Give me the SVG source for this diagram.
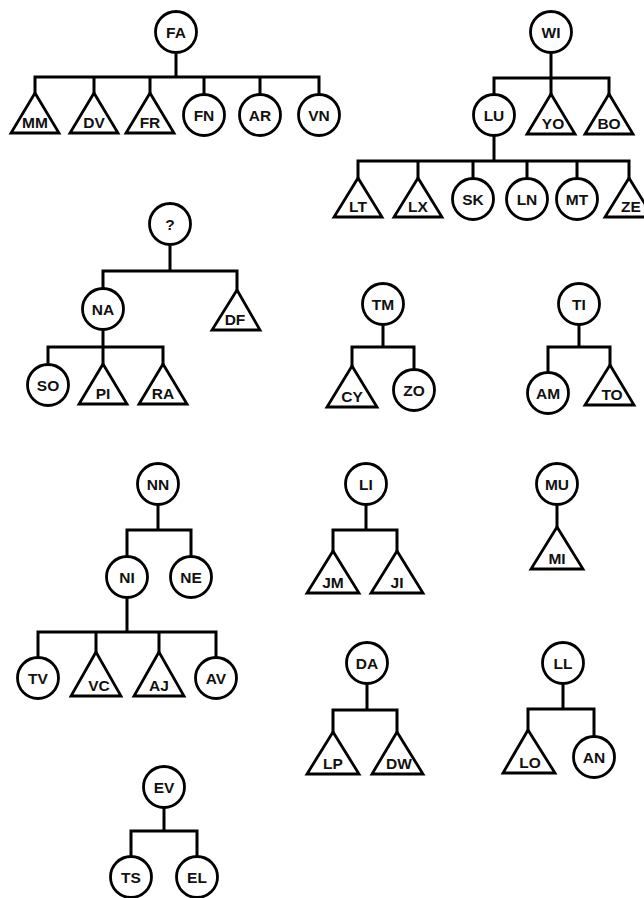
<svg xmlns="http://www.w3.org/2000/svg" width="644" height="898" viewBox="0 0 644 898">
<style>
.n circle,.n polygon{fill:#fff;stroke:#000;stroke-width:2.8;stroke-linejoin:miter}
.n text{font-family:"Liberation Sans",Arial,sans-serif;font-weight:bold;font-size:15.5px;text-anchor:middle;fill:#111}
#conn path{fill:none;stroke:#000;stroke-width:3;stroke-linecap:square}
</style>
<rect width="644" height="898" fill="#fff"/>
<g id="conn">
<path d="M176 52V77M35 77H319M35 77V93M94 77V93M150 77V93M204 77V95M260 77V95M319 77V95"/>
<path d="M551 52V78M494 78H609M494 78V95M551 78V94M609 78V94"/>
<path d="M494 135V161M358 161H629M358 161V178M418 161V178M473 161V179M527 161V179M577 161V179M629 161V178"/>
<path d="M170 244V271M103 271H237M103 271V289M237 271V290"/>
<path d="M103 329V347M48 347H163M48 347V365M103 347V364M163 347V364"/>
<path d="M383 324V347M352 347H414M352 347V366M414 347V370"/>
<path d="M579 324V347M548 347H610M548 347V373M610 347V365"/>
<path d="M158 504V530M127 530H191M127 530V557M191 530V557"/>
<path d="M127 597V632M38 632H216M38 632V658M96 632V652M159 632V652M216 632V658"/>
<path d="M366 504V530M333 530H397M333 530V551M397 530V551"/>
<path d="M557 504V527"/>
<path d="M367 683V710M333 710H397M333 710V732M397 710V732"/>
<path d="M563 683V709M528 709H594M528 709V730M594 709V737"/>
<path d="M164 807V831M131 831H197M131 831V857M197 831V857"/>
</g>
<g id="FA" class="n"><circle cx="176" cy="32" r="20.5"/><text x="176" y="37.5">FA</text></g>
<g id="MM" class="n"><polygon points="35,93 11,133 59,133"/><text x="35" y="128">MM</text></g>
<g id="DV" class="n"><polygon points="94,93 70,133 118,133"/><text x="94" y="128">DV</text></g>
<g id="FR" class="n"><polygon points="150,93 126,133 174,133"/><text x="150" y="128">FR</text></g>
<g id="FN" class="n"><circle cx="204" cy="115" r="20.5"/><text x="204" y="120.5">FN</text></g>
<g id="AR" class="n"><circle cx="260" cy="115" r="20.5"/><text x="260" y="120.5">AR</text></g>
<g id="VN" class="n"><circle cx="319" cy="115" r="20.5"/><text x="319" y="120.5">VN</text></g>
<g id="WI" class="n"><circle cx="551" cy="32" r="20.5"/><text x="551" y="37.5">WI</text></g>
<g id="LU" class="n"><circle cx="494" cy="115" r="20.5"/><text x="494" y="120.5">LU</text></g>
<g id="YO" class="n"><polygon points="551,94 527,134 575,134"/><text x="553" y="129">YO</text></g>
<g id="BO" class="n"><polygon points="609,94 585,134 633,134"/><text x="609" y="129">BO</text></g>
<g id="LT" class="n"><polygon points="358,178 334,217 382,217"/><text x="358" y="212">LT</text></g>
<g id="LX" class="n"><polygon points="418,178 394,217 442,217"/><text x="418" y="212">LX</text></g>
<g id="SK" class="n"><circle cx="473" cy="199" r="20.5"/><text x="473" y="204.5">SK</text></g>
<g id="LN" class="n"><circle cx="527" cy="199" r="20.5"/><text x="527" y="204.5">LN</text></g>
<g id="MT" class="n"><circle cx="577" cy="199" r="20.5"/><text x="577" y="204.5">MT</text></g>
<g id="ZE" class="n"><polygon points="629,178 605,217 653,217"/><text x="631" y="212">ZE</text></g>
<g id="Q" class="n"><circle cx="170" cy="224" r="20.5"/><text x="170" y="229.5">?</text></g>
<g id="NA" class="n"><circle cx="103" cy="309" r="20.5"/><text x="103" y="314.5">NA</text></g>
<g id="DF" class="n"><polygon points="237,290 212,330 260,330"/><text x="235" y="325">DF</text></g>
<g id="SO" class="n"><circle cx="48" cy="385" r="20.5"/><text x="48" y="390.5">SO</text></g>
<g id="PI" class="n"><polygon points="103,364 79,404 127,404"/><text x="103" y="399">PI</text></g>
<g id="RA" class="n"><polygon points="163,364 139,404 187,404"/><text x="163" y="399">RA</text></g>
<g id="TM" class="n"><circle cx="383" cy="304" r="20.5"/><text x="383" y="309.5">TM</text></g>
<g id="CY" class="n"><polygon points="352,366 327,407 377,407"/><text x="352" y="402">CY</text></g>
<g id="ZO" class="n"><circle cx="414" cy="390" r="20.5"/><text x="414" y="395.5">ZO</text></g>
<g id="TI" class="n"><circle cx="579" cy="304" r="20.5"/><text x="579" y="309.5">TI</text></g>
<g id="AM" class="n"><circle cx="548" cy="393" r="20.5"/><text x="548" y="398.5">AM</text></g>
<g id="TO" class="n"><polygon points="610,365 585,405 634,405"/><text x="612" y="400">TO</text></g>
<g id="NN" class="n"><circle cx="158" cy="484" r="20.5"/><text x="158" y="489.5">NN</text></g>
<g id="NI" class="n"><circle cx="127" cy="577" r="20.5"/><text x="127" y="582.5">NI</text></g>
<g id="NE" class="n"><circle cx="191" cy="577" r="20.5"/><text x="191" y="582.5">NE</text></g>
<g id="TV" class="n"><circle cx="38" cy="678" r="20.5"/><text x="38" y="683.5">TV</text></g>
<g id="VC" class="n"><polygon points="96,652 71,696 121,696"/><text x="99" y="691">VC</text></g>
<g id="AJ" class="n"><polygon points="159,652 134,696 184,696"/><text x="159" y="691">AJ</text></g>
<g id="AV" class="n"><circle cx="216" cy="678" r="20.5"/><text x="216" y="683.5">AV</text></g>
<g id="LI" class="n"><circle cx="366" cy="484" r="20.5"/><text x="366" y="489.5">LI</text></g>
<g id="JM" class="n"><polygon points="333,551 307,593 359,593"/><text x="333" y="588">JM</text></g>
<g id="JI" class="n"><polygon points="397,551 371,593 423,593"/><text x="397" y="588">JI</text></g>
<g id="MU" class="n"><circle cx="557" cy="484" r="20.5"/><text x="557" y="489.5">MU</text></g>
<g id="MI" class="n"><polygon points="557,527 531,569 583,569"/><text x="557" y="564">MI</text></g>
<g id="DA" class="n"><circle cx="367" cy="663" r="20.5"/><text x="367" y="668.5">DA</text></g>
<g id="LP" class="n"><polygon points="333,732 307,774 359,774"/><text x="333" y="769">LP</text></g>
<g id="DW" class="n"><polygon points="397,732 372,774 423,774"/><text x="399" y="769">DW</text></g>
<g id="LL" class="n"><circle cx="563" cy="663" r="20.5"/><text x="563" y="668.5">LL</text></g>
<g id="LO" class="n"><polygon points="528,730 503,773 555,773"/><text x="530" y="768">LO</text></g>
<g id="AN" class="n"><circle cx="594" cy="757" r="20.5"/><text x="594" y="762.5">AN</text></g>
<g id="EV" class="n"><circle cx="164" cy="787" r="20.5"/><text x="164" y="792.5">EV</text></g>
<g id="TS" class="n"><circle cx="131" cy="877" r="20.5"/><text x="131" y="882.5">TS</text></g>
<g id="EL" class="n"><circle cx="197" cy="877" r="20.5"/><text x="197" y="882.5">EL</text></g>
</svg>
